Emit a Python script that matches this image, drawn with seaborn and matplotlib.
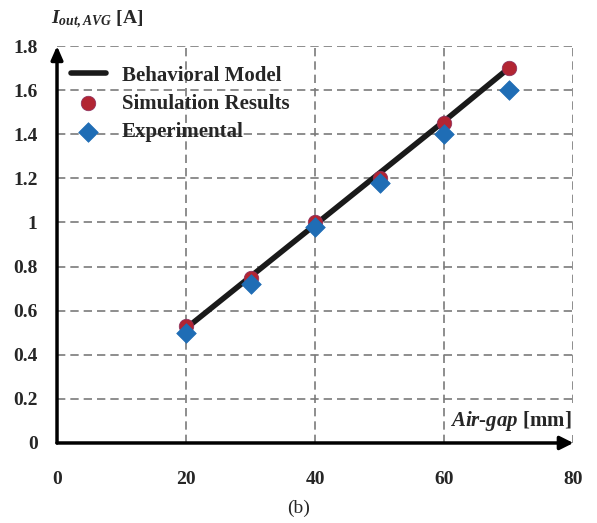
import matplotlib

matplotlib.use("Agg")
import matplotlib.pyplot as plt
import seaborn as sns
import pandas as pd

# Data
air_gap = [20, 30, 40, 50, 60, 70]
model_current = [0.52, 0.755, 0.99, 1.225, 1.46, 1.70]
sim_current = [0.53, 0.75, 1.00, 1.20, 1.45, 1.70]
exp_current = [0.50, 0.72, 0.98, 1.18, 1.40, 1.60]
x_ticks = [0, 20, 40, 60, 80]
y_ticks = [0, 0.2, 0.4, 0.6, 0.8, 1, 1.2, 1.4, 1.6, 1.8]
y_ticklabels = ["0", "0.2", "0.4", "0.6", "0.8", "1", "1.2", "1.4", "1.6", "1.8"]

df = pd.DataFrame({"gap": air_gap, "model": model_current,
                   "sim": sim_current, "exp": exp_current})

sns.set_style("white")
plt.rcParams["font.family"] = ["Liberation Serif", "DejaVu Serif"]
plt.rcParams["mathtext.fontset"] = "custom"
plt.rcParams["mathtext.it"] = "Liberation Serif:italic:bold"
plt.rcParams["mathtext.rm"] = "Liberation Serif:bold"

fig = plt.figure(figsize=(5.97, 5.23), dpi=100)
ax = fig.add_axes([0.0955, 0.153, 0.865, 0.759])

sns.lineplot(data=df, x="gap", y="model", ax=ax, color="#1a1a1a", lw=4,
             label="Behavioral Model", zorder=3)
sns.scatterplot(data=df, x="gap", y="sim", ax=ax, color="#b22533", marker="o",
                s=110, edgecolor="#8a3060", linewidth=0.5,
                label="Simulation Results", zorder=4)
sns.scatterplot(data=df, x="gap", y="exp", ax=ax, color="#1f6db5", marker="D",
                s=100, edgecolor="#1f6db5", linewidth=0.5,
                label="Experimental", zorder=5)

ax.set_xlim(0, 80)
ax.set_ylim(0, 1.8)
ax.set_xticks(x_ticks)
ax.set_yticks(y_ticks)
ax.set_yticklabels(y_ticklabels)
ax.set_xlabel("")
ax.set_ylabel("")
ax.tick_params(axis="both", length=0, labelsize=14)
ax.tick_params(axis="x", pad=20)
ax.tick_params(axis="y", pad=14)
for lbl in ax.get_xticklabels() + ax.get_yticklabels():
    lbl.set_fontweight("bold")

ax.grid(True, color="#7a7a7a", linestyle=(0, (5, 3)), linewidth=1.2)
for s in ax.spines.values():
    s.set_visible(False)

# axis arrows
ax.annotate("", xy=(1.0, 0), xytext=(0, 0), xycoords="axes fraction",
            arrowprops=dict(arrowstyle="-|>,head_length=0.8,head_width=0.4",
                            color="black", lw=2.5, shrinkA=0, shrinkB=0),
            zorder=6)
ax.annotate("", xy=(0, 1.0), xytext=(0, 0), xycoords="axes fraction",
            arrowprops=dict(arrowstyle="-|>,head_length=0.8,head_width=0.35",
                            color="black", lw=2.5, shrinkA=0, shrinkB=0),
            zorder=6)

leg = ax.legend(loc="upper left", bbox_to_anchor=(0.0, 0.985), frameon=False,
                prop=dict(weight="bold", size=15), handlelength=1.7,
                handletextpad=0.75, labelspacing=0.4, borderaxespad=0.25)

ax.text(0.997, 0.055, r"$Air$-$gap$ [mm]", transform=ax.transAxes,
        ha="right", va="center", fontsize=15, fontweight="bold",
        bbox=dict(facecolor="white", edgecolor="none", pad=1), zorder=4)
fig.text(0.085, 0.962, r"$I_{out,AVG}$ [A]", ha="left", va="center",
         fontsize=14, fontweight="bold")
fig.text(0.5, 0.028, "(b)", ha="center", va="center", fontsize=14)

plt.savefig("out.png", dpi=100)
plt.close(fig)
